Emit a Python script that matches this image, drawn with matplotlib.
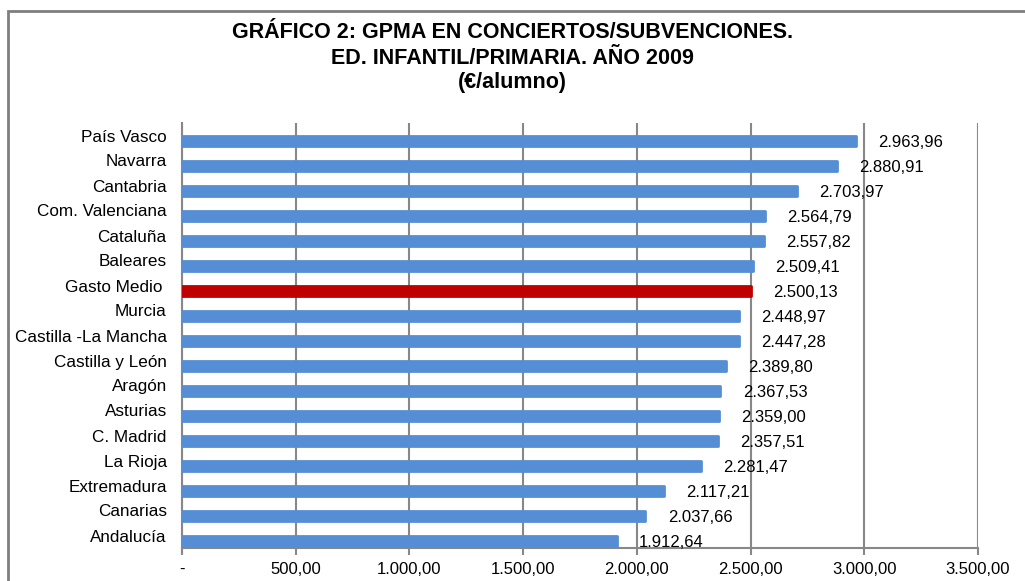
import matplotlib

matplotlib.use('Agg')
import matplotlib.pyplot as plt
from matplotlib.patches import Rectangle

regions = ['País Vasco', 'Navarra', 'Cantabria', 'Com. Valenciana', 'Cataluña',
           'Baleares', 'Gasto Medio ', 'Murcia', 'Castilla -La Mancha',
           'Castilla y León', 'Aragón', 'Asturias', 'C. Madrid', 'La Rioja',
           'Extremadura', 'Canarias', 'Andalucía']
gasto = [2963.96, 2880.91, 2703.97, 2564.79, 2557.82, 2509.41, 2500.13, 2448.97,
         2447.28, 2389.80, 2367.53, 2359.00, 2357.51, 2281.47, 2117.21, 2037.66,
         1912.64]
ticks = [0, 500, 1000, 1500, 2000, 2500, 3000, 3500]

BLUE = '#558ED5'
RED = '#C00000'
GRID = '#888888'


def es_fmt(v):
    # spanish style: 2.963,96
    return '{:,.2f}'.format(v).replace(',', 'X').replace('.', ',').replace('X', '.')


plt.rcParams['font.family'] = ['Liberation Sans', 'DejaVu Sans']

fig = plt.figure(figsize=(10.25, 5.81), dpi=100)
ax = fig.add_axes([182 / 1025, 1 - 548 / 581, (978 - 182) / 1025, (548 - 123) / 581])

# outer frame (only top/left visible in the reference)
fig.patches.append(Rectangle((8 / 1025, -0.1), 1.2, 1 - 10.5 / 581 + 0.1,
                             transform=fig.transFigure, fill=False,
                             edgecolor='#7F7F7F', linewidth=2))

n = len(regions)
pos = list(range(n))
colors = [RED if r.strip() == 'Gasto Medio' else BLUE for r in regions]
bar_h = 0.38
offset = 0.22  # bars sit a little below the category label
ax.barh([p + offset for p in pos], gasto, height=bar_h, color=colors,
        edgecolor=colors, linewidth=2, joinstyle='round', zorder=3)

for p, v in zip(pos, gasto):
    ax.annotate(es_fmt(v), xy=(v, p + offset + 0.05), xytext=(16, 0), textcoords='offset points',
                ha='left', va='center', fontsize=12, color='black', zorder=4)

ax.set_xlim(0, 3500)
ax.set_ylim(n - 0.5, -0.5)
ax.set_xticks(ticks)
ax.set_xticklabels(['-'] + [es_fmt(t) for t in ticks[1:]], fontsize=12)
ax.set_yticks(pos)
ax.set_yticklabels(regions, fontsize=12.3)
ax.tick_params(axis='y', length=0, pad=11)
ax.tick_params(axis='x', length=5, width=1.5, color=GRID, pad=5)

ax.grid(axis='x', color=GRID, linewidth=1.5, zorder=1)
for s in ['top', 'right']:
    ax.spines[s].set_visible(False)
for s in ['left', 'bottom']:
    ax.spines[s].set_color(GRID)
    ax.spines[s].set_linewidth(1.5)
ax.spines['left'].set_bounds(n - 0.5 + 0.2, -0.5)

for y, line in [(33, 'GRÁFICO 2: GPMA EN CONCIERTOS/SUBVENCIONES.'),
                (58, 'ED. INFANTIL/PRIMARIA. AÑO 2009'),
                (83, '(€/alumno)')]:
    fig.text(0.5, 1 - y / 581, line, ha='center', va='center',
             fontsize=15.5, fontweight='bold')

fig.savefig('out.png', dpi=100)
